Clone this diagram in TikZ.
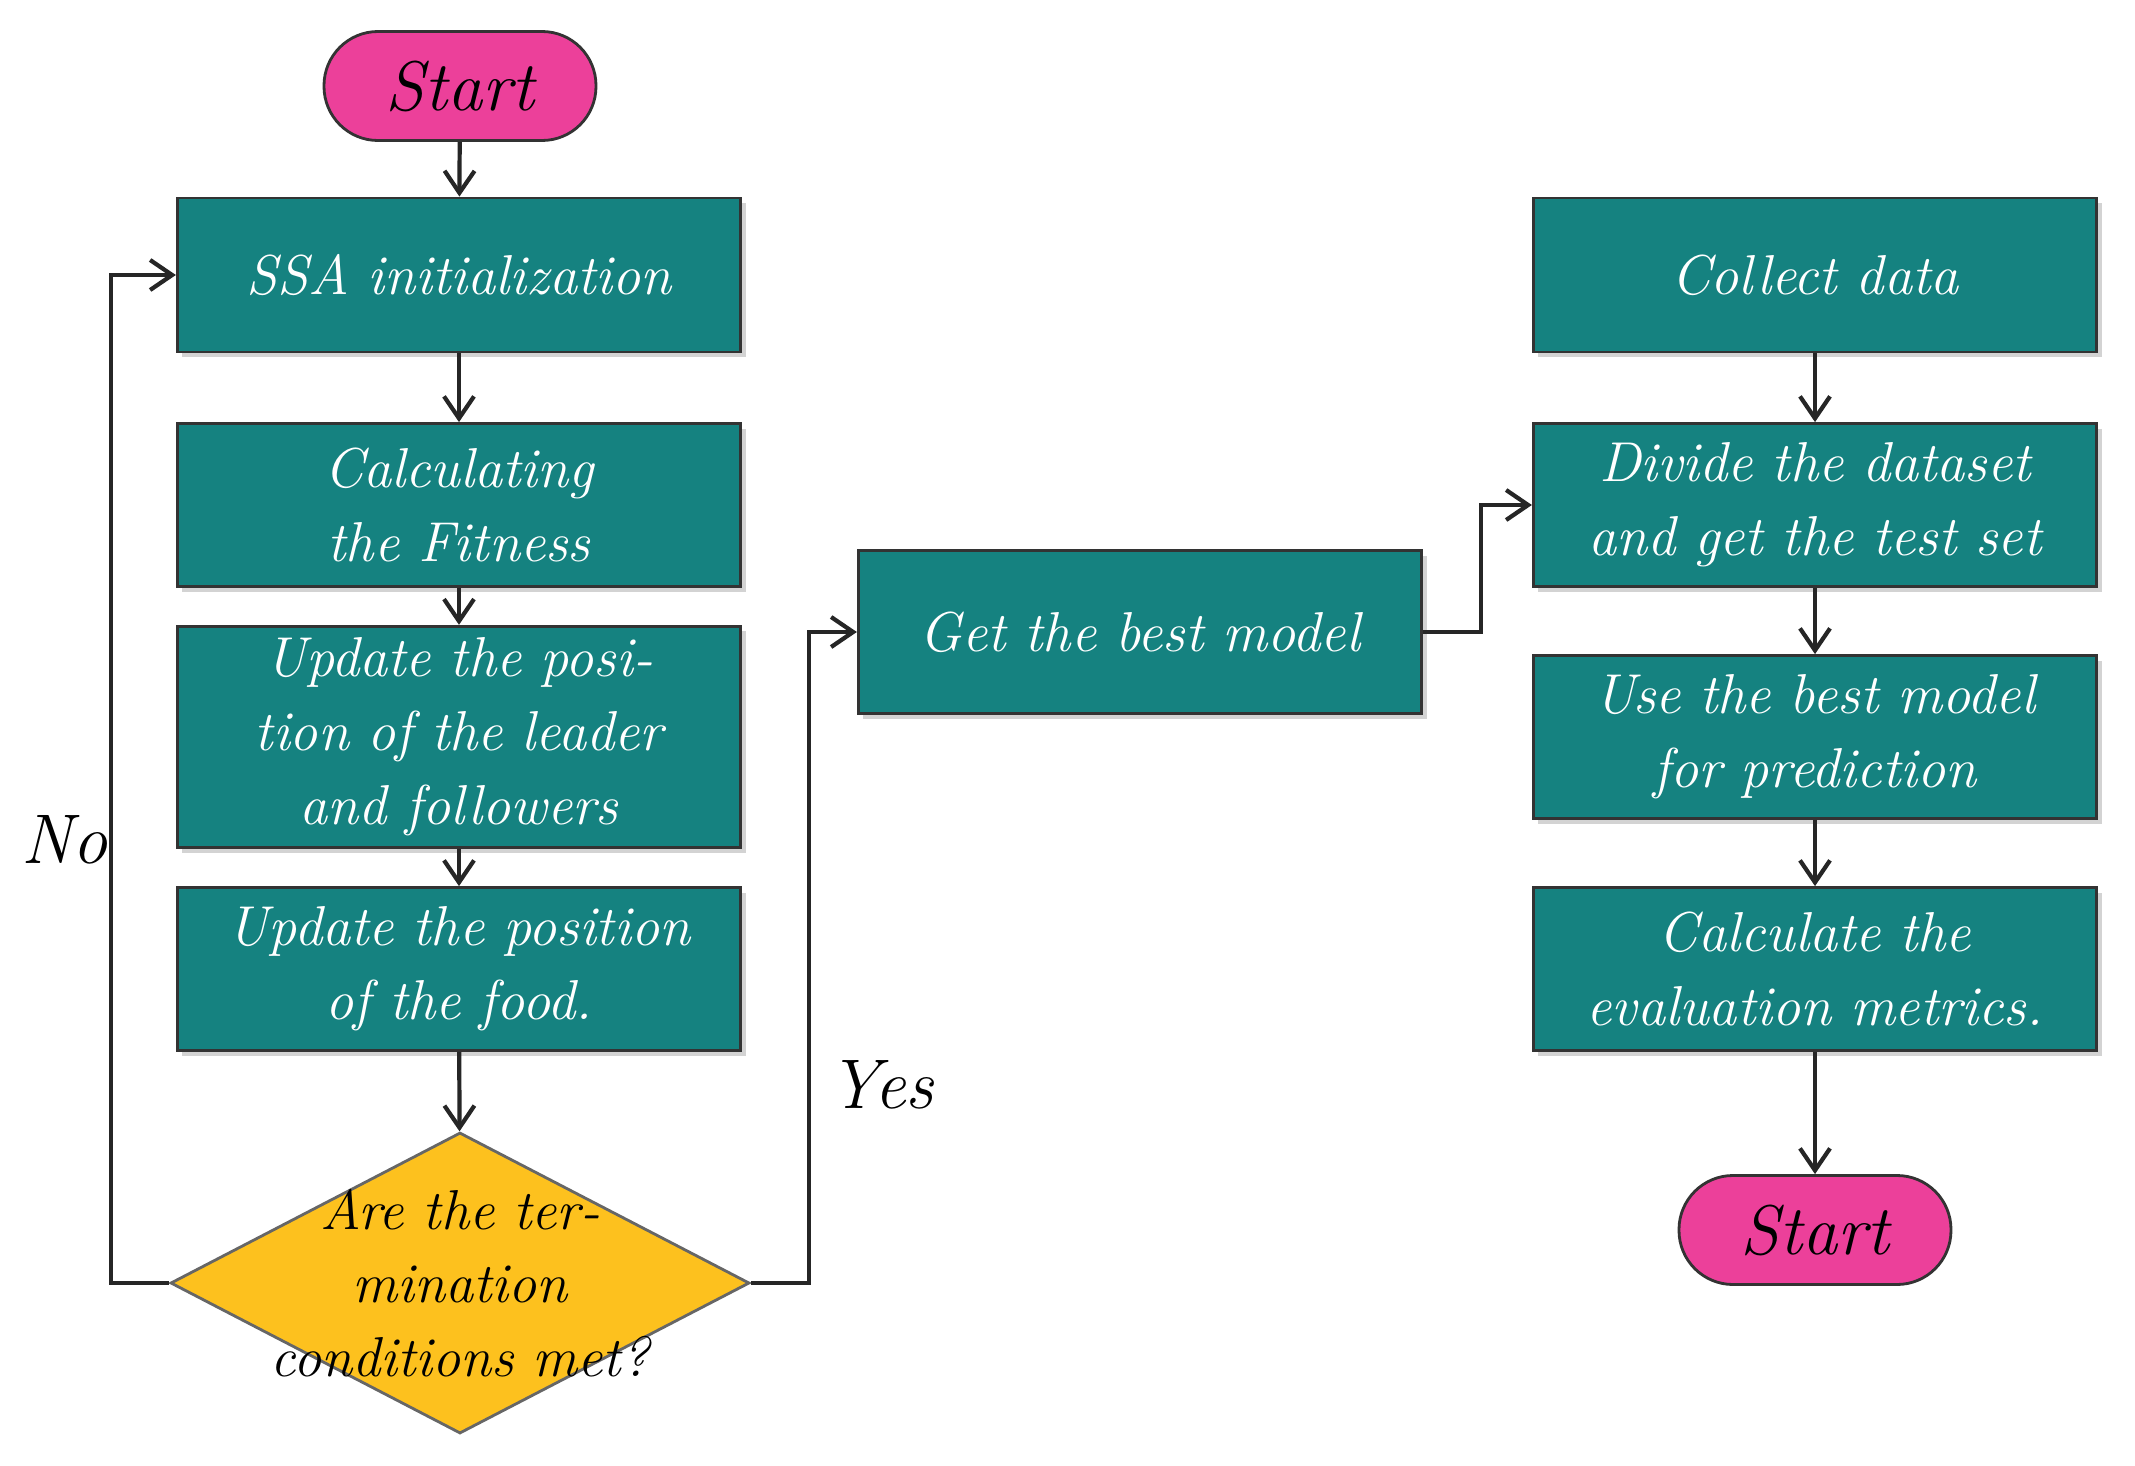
\documentclass[tikz,border=0pt]{standalone}
\usepackage{amsmath}
\usetikzlibrary{shapes.geometric,arrows.meta,positioning,calc,shadows}
\definecolor{tealbox}{RGB}{21,130,128}
\definecolor{pinkterm}{RGB}{236,64,154}
\definecolor{yellowdec}{RGB}{253,193,30}
\tikzstyle{Process} = [draw=black!80, thick, shape=rectangle, fill=tealbox, text=white, minimum width=5.61cm, minimum height=1.63cm, text width=5.4cm, align=center, drop shadow={opacity=0.35,shadow xshift=0.05cm,shadow yshift=-0.05cm}]
\tikzstyle{Terminal} = [draw=black!80, thick, fill=pinkterm, rectangle, rounded corners=0.54cm, minimum width=2.72cm, minimum height=1.09cm, font=\fontsize{20}{24}\selectfont\itshape]
\tikzstyle{Decision} = [draw=black!60, thick, diamond, fill=yellowdec, inner sep=0pt, minimum width=5.79cm, minimum height=3.01cm]
\tikzstyle{Arrow} = [-{Straight Barb[length=2.2mm,width=3mm]}, very thick, black!85]
\begin{document}
\begin{tikzpicture}
        \tikzstyle{every node} = [font=\fontsize{16}{21}\selectfont\itshape]
        \useasboundingbox (0,0) rectangle (21.35,-14.66);

        %%%%% Left Column %%%%%

        \node[Terminal] at (4.60,-0.86) (A) {Start};
        \node[Process, minimum height=1.54cm] at (4.59,-2.75) (B) {SSA initialization};
        \node[Process] at ($(B)+(0,-2.30)$) (C) {Calculating the Fitness};
        \node[Process] at ($(C)+(0,-2.32)$) (D) {Update the position of the leader and followers};
        \node[Process] at ($(D)+(0,-2.32)$) (E) {Update the position\\ of the food.};
        \node[Decision] at (4.60,-12.83) (F) {};
        \node[text width=4.3cm, align=center] at (F) {Are the termination conditions met?};

        %%%%% Middle %%%%%

        \node[Process] at (11.40,-6.32) (G) {Get the best model};

        %%%%% Right Column %%%%%

        \node[Process, minimum height=1.54cm] at (18.15,-2.75) (H) {Collect data};
        \node[Process] at ($(H)+(0,-2.30)$) (I) {Divide the dataset\\ and get the test set};
        \node[Process] at ($(I)+(0,-2.32)$) (J) {Use the best model\\ for prediction};
        \node[Process] at ($(J)+(0,-2.32)$) (K) {Calculate the\\ evaluation metrics.};
        \node[Terminal] at (18.15,-12.30) (L) {Start};

        %%%%% Labels %%%%%

        \node[font=\fontsize{20}{24}\selectfont\itshape] at (0.65,-8.40) (no) {No};
        \node[font=\fontsize{20}{24}\selectfont\itshape] at (8.81,-10.85) (yes) {Yes};

        %%%%% Connecting Arrows %%%%%

        \draw [Arrow] (A) -- (B);
        \draw [Arrow] (B) -- (C);
        \draw [Arrow] (C) -- (D);
        \draw [Arrow] (D) -- (E);
        \draw [Arrow] (E) -- (F);
        \draw [Arrow] (F.west) -- ++(-0.58,0) |- (B.west);
        \draw [Arrow] (F.east) -- ++(0.58,0) |- (G.west);
        \draw [Arrow] (G.east) -- ++(0.58,0) |- (I.west);
        \draw [Arrow] (H) -- (I);
        \draw [Arrow] (I) -- (J);
        \draw [Arrow] (J) -- (K);
        \draw [Arrow] (K) -- (L);

\end{tikzpicture}
\end{document}
